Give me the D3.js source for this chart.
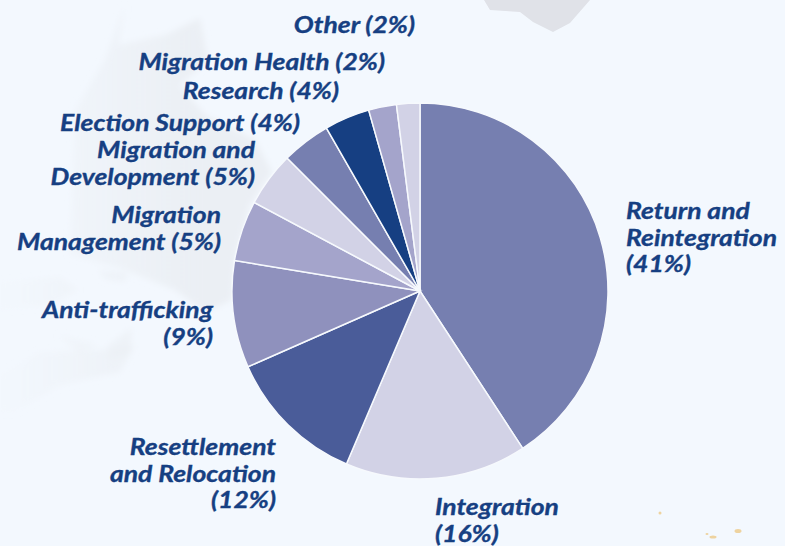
<!DOCTYPE html>
<html>
<head>
<meta charset="utf-8">
<script src="https://cdnjs.cloudflare.com/ajax/libs/d3/7.8.5/d3.min.js"></script>
<style>
  html, body { margin: 0; padding: 0; background: #f3f8fe; overflow: hidden; }
  text { font-family: Lato, "Open Sans", sans-serif; font-weight: 700; font-style: italic; fill: #163f82; stroke: #163f82; stroke-width: 0.35; }
</style>
</head>
<body>
<svg id="chart" width="785" height="546"></svg>
<script>
const categories = ['Return and Reintegration', 'Integration', 'Resettlement and Relocation',
    'Anti-trafficking', 'Migration Management', 'Migration and Development',
    'Election Support', 'Research', 'Migration Health', 'Other'];
// slice sizes, the printed labels are rounded
const shares = [40.8, 15.6, 12, 9.2, 5.2, 4.7, 4.2, 3.9, 2.4, 2];
const colors = ['#767fb0', '#d2d2e6', '#4a5c99', '#8f91bd', '#a4a4cb',
    '#d2d2e6', '#767fb0', '#163f82', '#a4a4cb', '#d2d2e6'];

// label lines, x, y of first baseline, anchor
const labels = [
    { lines: ['Return and', 'Reintegration', '(41%)'], x: 626, y: 219, anchor: 'start' },
    { lines: ['Integration', '(16%)'], x: 435, y: 515, anchor: 'start' },
    { lines: ['Resettlement', 'and Relocation', '(12%)'], x: 276, y: 455, anchor: 'end' },
    { lines: ['Anti-trafficking', '(9%)'], x: 213, y: 318, anchor: 'end' },
    { lines: ['Migration', 'Management (5%)'], x: 221, y: 223, anchor: 'end' },
    { lines: ['Migration and', 'Development (5%)'], x: 255, y: 158, anchor: 'end' },
    { lines: ['Election Support (4%)'], x: 300, y: 131, anchor: 'end' },
    { lines: ['Research (4%)'], x: 339, y: 99, anchor: 'end' },
    { lines: ['Migration Health (2%)'], x: 385, y: 70, anchor: 'end' },
    { lines: ['Other (2%)'], x: 415, y: 33, anchor: 'end' }
];

const svg = d3.select('#chart');

// faint map in the background
const defs = svg.append('defs');
defs.append('filter').attr('id', 'soft').append('feGaussianBlur').attr('stdDeviation', 3);
defs.append('filter').attr('id', 'softer').append('feGaussianBlur').attr('stdDeviation', 0.7);
const fade = defs.append('linearGradient').attr('id', 'fade')
    .attr('gradientUnits', 'userSpaceOnUse')
    .attr('x1', 20).attr('x2', 200).attr('y1', 0).attr('y2', 0);
fade.append('stop').attr('offset', 0).attr('stop-color', '#ebeff4').attr('stop-opacity', 0.15);
fade.append('stop').attr('offset', 1).attr('stop-color', '#ebeff4').attr('stop-opacity', 1);

const land = [
    'M75,110 L105,60 L125,5 L118,45 L165,35 L200,18 L208,60 L180,85 L205,115 L255,140 L272,172 L250,205 L235,260 L232,300 L205,312 L175,290 L120,268 L70,255 Z',
    'M0,282 L60,277 L78,290 L50,305 L0,310 Z',
    'M98,270 L128,273 L125,282 L105,279 Z',
    'M0,375 L40,352 L100,350 L135,345 L120,372 L60,385 L15,412 L0,412 Z',
    'M108,345 L132,328 L130,352 L110,360 Z',
    'M58,335 L98,345 L78,352 Z'
];
svg.append('g')
    .attr('filter', 'url(#soft)')
    .selectAll('path')
    .data(land)
    .join('path')
    .attr('d', d => d)
    .style('fill', 'url(#fade)');

// newfoundland at the top, sharper and a bit darker
svg.append('path')
    .attr('d', 'M484,0 L490,10 L520,12 L533,22 L553,32 L570,23 L590,0 Z')
    .style('fill', '#e0e2e8')
    .attr('filter', 'url(#softer)');

// small islands bottom right
svg.append('g')
    .selectAll('ellipse')
    .data([[660, 513, 1.5, 1.5], [707, 534, 1.5, 1], [713, 537, 3.5, 1.5], [738, 531, 3.5, 2]])
    .join('ellipse')
    .attr('cx', d => d[0]).attr('cy', d => d[1])
    .attr('rx', d => d[2]).attr('ry', d => d[3])
    .style('fill', '#eed3a0');

const pie = d3.pie().sort(null).value(d => d);
const arc = d3.arc().innerRadius(0).outerRadius(188);

svg.append('g')
    .attr('transform', 'translate(420,291)')
    .selectAll('path')
    .data(pie(shares))
    .join('path')
    .attr('d', arc)
    .style('fill', (d, i) => colors[i])
    .style('stroke', '#f6f9fd')
    .style('stroke-width', 1.5)
    .append('title')
    .text((d, i) => categories[i]);

// one text per label, lines as tspans, Lato stretched a bit to get the wider Calibri look
const texts = svg.selectAll('text.label')
    .data(labels)
    .join('text')
    .attr('class', 'label')
    .attr('transform', d => `translate(${d.x},${d.y}) scale(1.128,1)`)
    .attr('text-anchor', d => d.anchor)
    .style('font-size', '23.5px');

texts.selectAll('tspan')
    .data(d => d.lines)
    .join('tspan')
    .attr('x', 0)
    .attr('dy', (l, j) => j === 0 ? 0 : 26.7)
    .text(l => l);
</script>
</body>
</html>
